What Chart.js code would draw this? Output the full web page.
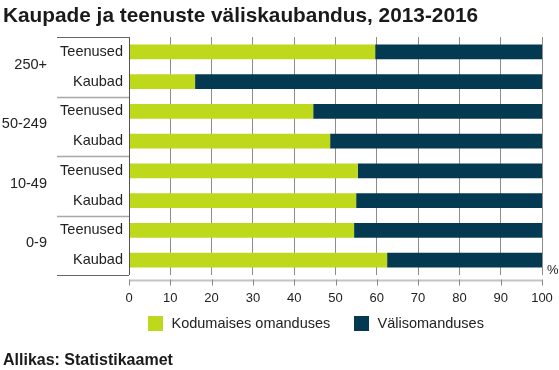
<!DOCTYPE html>
<html>
<head>
<meta charset="utf-8">
<script src="https://cdn.jsdelivr.net/npm/chart.js@4.4.1/dist/chart.umd.min.js"></script>
<style>
  html, body { margin: 0; padding: 0; background: #ffffff; }
  #wrap { width: 559px; height: 370px; position: relative; }
</style>
</head>
<body>
<div id="wrap"><canvas id="c"></canvas></div>
<script>
// ---- data ----
const titleText = 'Kaupade ja teenuste väliskaubandus, 2013-2016';
const sourceText = 'Allikas: Statistikaamet';
const groups = ['250+', '50-249', '10-49', '0-9'];
const categories = ['Teenused', 'Kaubad', 'Teenused', 'Kaubad', 'Teenused', 'Kaubad', 'Teenused', 'Kaubad'];
const seriesNames = ['Kodumaises omanduses', 'Välisomanduses'];
const domestic = [59.6, 16.0, 44.6, 48.7, 55.4, 55.0, 54.5, 62.5];
const foreign = [40.4, 84.0, 55.4, 51.3, 44.6, 45.0, 45.5, 37.5];
const xTicks = [0, 10, 20, 30, 40, 50, 60, 70, 80, 90, 100];
const unitLabel = '%';

const GREEN = '#bed81c';
const DARK = '#033a52';
const FONT = '"Liberation Sans", Arial, sans-serif';

const decor = {
  id: 'decor',
  afterDraw(chart) {
    const ctx = chart.ctx;
    const area = chart.chartArea;
    const xs = chart.scales.x, ys = chart.scales.y;
    ctx.save();
    // title
    ctx.fillStyle = '#1a1a1a';
    ctx.font = 'bold 20.8px ' + FONT;
    ctx.textAlign = 'left';
    ctx.textBaseline = 'alphabetic';
    ctx.fillText(titleText, 3, 21.5);

    // y axis line
    ctx.strokeStyle = '#555';
    ctx.lineWidth = 1;
    ctx.beginPath();
    ctx.moveTo(Math.round(area.left) + 0.5, area.top);
    ctx.lineTo(Math.round(area.left) + 0.5, area.bottom);
    ctx.stroke();

    // group separators
    const n = categories.length;
    const step = (area.bottom - area.top) / n;
    const sepLeft = 57;
    for (let g = 0; g <= groups.length; g++) {
      const y = area.top + g * 2 * step;
      const edge = (g === 0 || g === groups.length);
      ctx.strokeStyle = edge ? '#666' : '#a8a8a8';
      ctx.lineWidth = edge ? 1 : 1.5;
      ctx.beginPath();
      ctx.moveTo(sepLeft, Math.round(y) + 0.5);
      ctx.lineTo(area.left, Math.round(y) + 0.5);
      ctx.stroke();
    }
    // group labels
    ctx.fillStyle = '#222';
    ctx.font = '14.5px ' + FONT;
    ctx.textAlign = 'right';
    ctx.textBaseline = 'middle';
    groups.forEach((g, i) => {
      const y = (ys.getPixelForValue(i * 2) + ys.getPixelForValue(i * 2 + 1)) / 2 - 2;
      ctx.fillText(g, 47, y);
    });

    // x axis line + ticks
    const axisY = 280.5;
    ctx.strokeStyle = '#c4c4c4';
    ctx.lineWidth = 2;
    ctx.beginPath();
    ctx.moveTo(xs.getPixelForValue(0), axisY);
    ctx.lineTo(xs.getPixelForValue(100), axisY);
    ctx.stroke();
    ctx.strokeStyle = '#888';
    ctx.lineWidth = 1;
    xTicks.forEach(v => {
      const x = Math.round(xs.getPixelForValue(v)) + 0.5;
      ctx.beginPath();
      ctx.moveTo(x, axisY - 1);
      ctx.lineTo(x, axisY + 5);
      ctx.stroke();
    });

    // unit label
    ctx.fillStyle = '#222';
    ctx.font = '13px ' + FONT;
    ctx.textAlign = 'left';
    ctx.textBaseline = 'middle';
    ctx.fillText(unitLabel, 547, 270);

    // legend
    const colors = [GREEN, DARK];
    const lx = [148, 354];
    ctx.font = '14.5px ' + FONT;
    ctx.textBaseline = 'middle';
    seriesNames.forEach((name, i) => {
      ctx.fillStyle = colors[i];
      ctx.fillRect(lx[i], 316, 15, 15);
      ctx.fillStyle = '#222';
      ctx.fillText(name, lx[i] + 23.5, 324);
    });

    // source
    ctx.fillStyle = '#1a1a1a';
    ctx.font = 'bold 16px ' + FONT;
    ctx.textBaseline = 'alphabetic';
    ctx.fillText(sourceText, 3, 365);
    ctx.restore();
  }
};

new Chart(document.getElementById('c'), {
  type: 'bar',
  data: {
    labels: categories,
    datasets: [
      { label: seriesNames[0], data: domestic, backgroundColor: GREEN, borderWidth: 0 },
      { label: seriesNames[1], data: foreign, backgroundColor: DARK, borderWidth: 0 }
    ]
  },
  options: {
    indexAxis: 'y',
    responsive: true,
    maintainAspectRatio: false,
    animation: false,
    events: [],
    layout: { padding: { top: 37, right: 17, left: 0, bottom: 0 } },
    datasets: { bar: { barPercentage: 0.5, categoryPercentage: 1.0 } },
    plugins: { legend: { display: false }, title: { display: false }, tooltip: { enabled: false } },
    scales: {
      x: {
        type: 'linear',
        stacked: true,
        min: 0,
        max: 100,
        afterFit(scale) { scale.height = 95; scale.paddingLeft = 0; scale.paddingRight = 0; },
        afterBuildTicks(scale) { scale.ticks = xTicks.map(v => ({ value: v })); },
        grid: { display: true, drawTicks: false, color: '#8c8c8c', lineWidth: 1 },
        border: { display: false },
        ticks: { padding: 16, color: '#222', font: { family: FONT, size: 13 } }
      },
      y: {
        type: 'category',
        stacked: true,
        afterFit(scale) { scale.width = 129; scale.paddingTop = 0; scale.paddingBottom = 0; },
        grid: { display: false, drawTicks: false },
        border: { display: false },
        ticks: { padding: 6, color: '#222', font: { family: FONT, size: 14.5 } }
      }
    }
  },
  plugins: [decor]
});
</script>
</body>
</html>
